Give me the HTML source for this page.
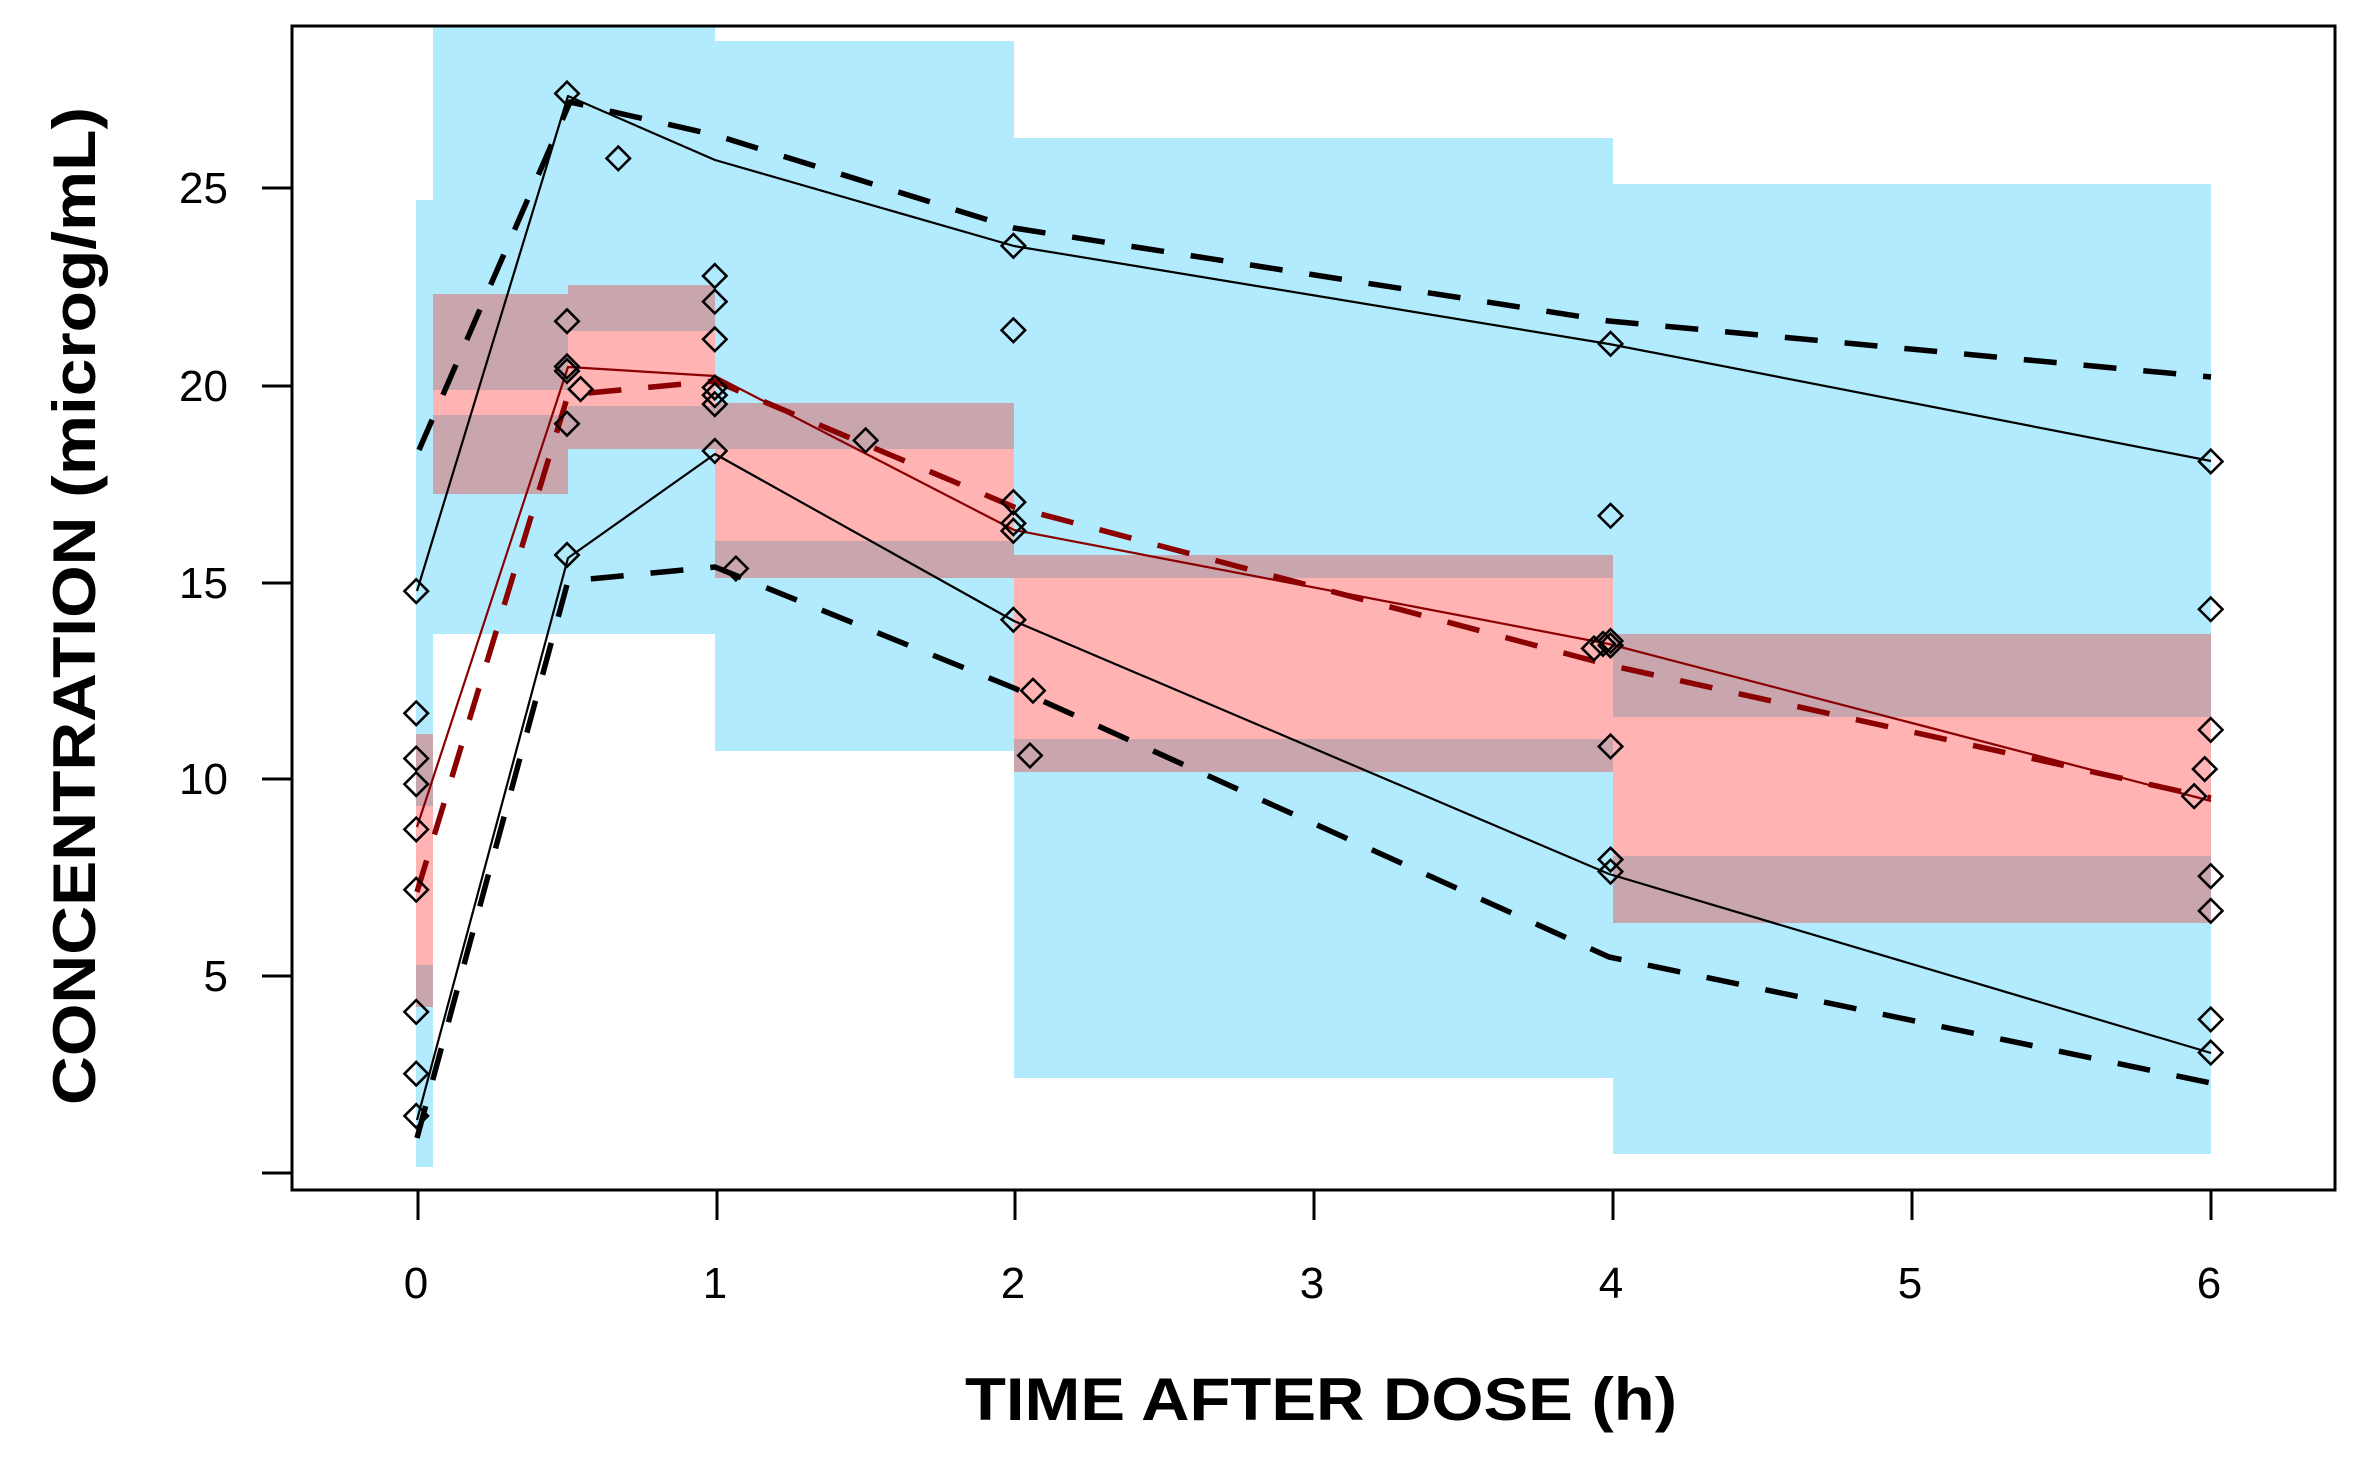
<!DOCTYPE html>
<html><head><meta charset="utf-8"><style>html,body{margin:0;padding:0;background:#fff}svg{display:block}</style></head>
<body>
<svg width="2363" height="1457" viewBox="0 0 2363 1457" xmlns="http://www.w3.org/2000/svg">
<defs><clipPath id="c"><rect x="292" y="26" width="2043" height="1164"/></clipPath></defs>
<g clip-path="url(#c)">
<g fill="#b2ebfd">
<rect x="416" y="200" width="17" height="967"/>
<rect x="433" y="20" width="282" height="614"/>
<rect x="715" y="41" width="299" height="710"/>
<rect x="1014" y="138" width="599" height="940"/>
<rect x="1613" y="184" width="598" height="970"/>
</g>
<g fill="#ffb3b3">
<rect x="416" y="734" width="17" height="273"/>
<rect x="433" y="294" width="135" height="200"/>
<rect x="568" y="285" width="147" height="164"/>
<rect x="715" y="403" width="299" height="175"/>
<rect x="1014" y="555" width="599" height="217"/>
<rect x="1613" y="634" width="598" height="289"/>
</g>
<g fill="#c9a5ae">
<rect x="416" y="734" width="17" height="72"/><rect x="416" y="965" width="17" height="42"/>
<rect x="433" y="294" width="135" height="96"/><rect x="433" y="415" width="135" height="79"/>
<rect x="568" y="285" width="147" height="46"/><rect x="568" y="406" width="147" height="43"/>
<rect x="715" y="403" width="299" height="46"/><rect x="715" y="541" width="299" height="37"/>
<rect x="1014" y="555" width="599" height="23"/><rect x="1014" y="739" width="599" height="33"/>
<rect x="1613" y="634" width="598" height="83"/><rect x="1613" y="856" width="598" height="67"/>
</g>
<g fill="none" stroke-linejoin="round">
<polyline stroke="#000" stroke-width="2.2" points="417,591 568,96 715,160 1014,246 1609,344 2211,461"/>
<polyline stroke="#000" stroke-width="5.5" stroke-dasharray="33,27" points="419,450 570,102 715,135 1014,228 1609,321 2211,377"/>
<polyline stroke="#8b0000" stroke-width="2.2" points="417,827 568,367 715,376 1014,530 1609,644 2211,801"/>
<polyline stroke="#8b0000" stroke-width="5.5" stroke-dasharray="33,27" points="417,892 568,395 715,381 1014,507 1609,665 2211,798"/>
<polyline stroke="#000" stroke-width="2.2" points="417,1120 568,558 715,454 1014,621 1609,874 2211,1053"/>
<polyline stroke="#000" stroke-width="5.5" stroke-dasharray="33,27" points="417,1138 568,581 715,567 1014,688 1609,957 2211,1083"/>
</g>
<g transform="scale(1.508)" fill="none" stroke="#000" stroke-width="1.7">
<defs><path id="d" d="M0,-7.8 L7.8,0 L0,7.8 L-7.8,0 Z"/></defs>
<use href="#d" x="276" y="392"/><use href="#d" x="276" y="473"/><use href="#d" x="276" y="503"/><use href="#d" x="276" y="520"/><use href="#d" x="276" y="550"/><use href="#d" x="276" y="590"/><use href="#d" x="276" y="671"/><use href="#d" x="276" y="712"/><use href="#d" x="276" y="740"/>
<use href="#d" x="376" y="62"/><use href="#d" x="376" y="213"/><use href="#d" x="376" y="243"/><use href="#d" x="376" y="246"/><use href="#d" x="376" y="281"/><use href="#d" x="376" y="368"/><use href="#d" x="385" y="258"/><use href="#d" x="410" y="105"/>
<use href="#d" x="474" y="183"/><use href="#d" x="474" y="200"/><use href="#d" x="474" y="225"/><use href="#d" x="474" y="257"/><use href="#d" x="474" y="262"/><use href="#d" x="474" y="268"/><use href="#d" x="474" y="299"/><use href="#d" x="488" y="377"/><use href="#d" x="574" y="292"/>
<use href="#d" x="672" y="163"/><use href="#d" x="672" y="219"/><use href="#d" x="672" y="333"/><use href="#d" x="672" y="347"/><use href="#d" x="672" y="352"/><use href="#d" x="672" y="411"/><use href="#d" x="685" y="458"/><use href="#d" x="683" y="501"/>
<use href="#d" x="1068" y="228"/><use href="#d" x="1068" y="342"/><use href="#d" x="1068" y="425"/><use href="#d" x="1068" y="428"/><use href="#d" x="1068" y="495"/><use href="#d" x="1068" y="570"/><use href="#d" x="1068" y="578"/><use href="#d" x="1057" y="430"/><use href="#d" x="1063" y="427"/>
<use href="#d" x="1466" y="306"/><use href="#d" x="1466" y="404"/><use href="#d" x="1466" y="484"/><use href="#d" x="1462" y="510"/><use href="#d" x="1455" y="528"/><use href="#d" x="1466" y="581"/><use href="#d" x="1466" y="604"/><use href="#d" x="1466" y="676"/><use href="#d" x="1466" y="698"/>
</g>
</g>
<rect x="292" y="26" width="2043" height="1164" fill="none" stroke="#000" stroke-width="3"/>
<g stroke="#000" stroke-width="3">
<line x1="262" y1="188" x2="292" y2="188"/><line x1="262" y1="386" x2="292" y2="386"/><line x1="262" y1="583" x2="292" y2="583"/><line x1="262" y1="779" x2="292" y2="779"/><line x1="262" y1="976" x2="292" y2="976"/><line x1="262" y1="1173" x2="292" y2="1173"/>
<line x1="418" y1="1190" x2="418" y2="1220"/><line x1="717" y1="1190" x2="717" y2="1220"/><line x1="1015" y1="1190" x2="1015" y2="1220"/><line x1="1314" y1="1190" x2="1314" y2="1220"/><line x1="1613" y1="1190" x2="1613" y2="1220"/><line x1="1912" y1="1190" x2="1912" y2="1220"/><line x1="2211" y1="1190" x2="2211" y2="1220"/>
</g>
<g font-family="Liberation Sans, sans-serif" font-size="44" fill="#000">
<g text-anchor="end"><text x="228" y="203">25</text><text x="228" y="401">20</text><text x="228" y="598">15</text><text x="228" y="794">10</text><text x="228" y="991">5</text></g>
<g text-anchor="middle"><text x="416" y="1298">0</text><text x="715" y="1298">1</text><text x="1013" y="1298">2</text><text x="1312" y="1298">3</text><text x="1611" y="1298">4</text><text x="1910" y="1298">5</text><text x="2209" y="1298">6</text></g>
<text x="965" y="1420" font-size="60" font-weight="bold" textLength="712" lengthAdjust="spacingAndGlyphs">TIME AFTER DOSE (h)</text>
<text transform="translate(95,1105) rotate(-90)" font-size="60" font-weight="bold" textLength="998" lengthAdjust="spacingAndGlyphs">CONCENTRATION (microg/mL)</text>
</g>
</svg>
</body></html>
